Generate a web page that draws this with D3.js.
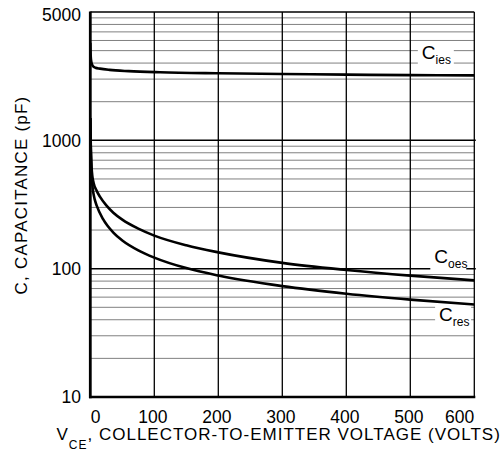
<!DOCTYPE html>
<html>
<head>
<meta charset="utf-8">
<script src="https://cdn.jsdelivr.net/npm/d3@7"></script>
<style>
  html, body { margin: 0; padding: 0; background: #fff; }
  svg { display: block; font-family: "Liberation Sans", Arial, sans-serif; }
</style>
</head>
<body>
<svg id="chart" width="502" height="452"></svg>
<script>
// Collector-emitter voltage (V) sample points for each capacitance curve
const vIes = [0, 0.3, 1, 2, 4, 8, 15, 30, 60, 109, 200, 300, 400, 500, 600];
const cIes = [5750, 4900, 4300, 4000, 3800, 3680, 3620, 3540, 3460, 3390, 3330, 3290, 3250, 3220, 3210];

const vOes = [0, 0.5, 1, 2, 3, 5, 10, 15, 25, 36, 50, 75, 100, 150, 200, 300, 400, 500, 600];
const cOes = [1490, 1048, 824, 620, 536, 469, 404, 364, 311, 273, 241, 205, 181, 152, 134, 111, 97.7, 88.2, 81.1];

const vRes = [0, 0.5, 1, 2, 3, 5, 7, 10, 20, 36, 50, 75, 100, 150, 200, 300, 400, 500, 600];
const cRes = [1490, 998, 757, 544, 457, 383, 345, 310, 243, 191, 166, 139, 122, 101, 88.4, 73.1, 63.8, 57.4, 52.6];

// Axis ticks and their printed labels
const xTicks = [0, 100, 200, 300, 400, 500, 600];
const yTicks = [10, 100, 1000, 10000];
const yTickLabels = ["10", "100", "1000", "5000"];

// Curve name labels: main letter, subscript, anchor (V, pF)
const curveLabels = [
  { main: "C", sub: "ies", v: 518, c: 4280 },
  { main: "C", sub: "oes", v: 537.5, c: 110 },
  { main: "C", sub: "res", v: 545, c: 39.1 }
];

const svg = d3.select("#chart");
const pLeft = 90.3, pRight = 474.3, pTop = 12, pBottom = 397;

const x = d3.scaleLinear().domain([0, 600]).range([pLeft, pRight]);
const y = d3.scaleLog().domain([10, 10000]).range([pBottom, pTop]);

// Minor horizontal grid (2..9 within each decade)
const minor = [];
for (let d = 10; d < 10000; d *= 10) {
  for (let k = 2; k <= 9; k++) minor.push(d * k);
}
svg.append("g").selectAll("line").data(minor).join("line")
  .attr("x1", pLeft).attr("x2", pRight)
  .attr("y1", d => y(d)).attr("y2", d => y(d))
  .attr("stroke", "#808080").attr("stroke-width", 1);

// Decade lines
svg.append("g").selectAll("line").data([100, 1000]).join("line")
  .attr("x1", pLeft).attr("x2", pRight + 1.5)
  .attr("y1", d => y(d)).attr("y2", d => y(d))
  .attr("stroke", "#000").attr("stroke-width", 1.5);

// Vertical grid
svg.append("g").selectAll("line").data(xTicks.slice(1, -1)).join("line")
  .attr("x1", d => x(d)).attr("x2", d => x(d))
  .attr("y1", pTop).attr("y2", pBottom)
  .attr("stroke", "#000").attr("stroke-width", 1.3);

// Frame: thin top/right, heavy left/bottom axes
svg.append("line").attr("x1", pLeft).attr("x2", pRight).attr("y1", pTop).attr("y2", pTop)
  .attr("stroke", "#000").attr("stroke-width", 1.3);
svg.append("line").attr("x1", pRight).attr("x2", pRight).attr("y1", pTop).attr("y2", pBottom)
  .attr("stroke", "#000").attr("stroke-width", 1.3);

// Label knock-out boxes and curve names
const lab = svg.append("g");
curveLabels.forEach(l => {
  const bx = x(l.v), by = y(l.c);
  lab.append("rect")
    .attr("x", bx - 4).attr("y", by - 16)
    .attr("width", 36).attr("height", 23)
    .attr("fill", "#fff");
  const t = lab.append("text").attr("x", bx).attr("y", by)
    .attr("font-size", 19).attr("fill", "#000");
  t.append("tspan").text(l.main);
  t.append("tspan").attr("dy", 5).attr("font-size", 12).text(l.sub);
});

// Capacitance curves
const line = d3.line()
  .x(d => x(d[0])).y(d => y(d[1]))
  .curve(d3.curveMonotoneX);
const series = [
  d3.zip(vIes, cIes),
  d3.zip(vOes, cOes),
  d3.zip(vRes, cRes)
];
svg.append("g").selectAll("path").data(series).join("path")
  .attr("d", line)
  .attr("fill", "none").attr("stroke", "#000")
  .attr("stroke-width", 2.6).attr("stroke-linejoin", "round");

// Heavy left and bottom axis lines
svg.append("line").attr("x1", pLeft).attr("x2", pLeft).attr("y1", pTop - 0.5).attr("y2", pBottom + 1.3)
  .attr("stroke", "#000").attr("stroke-width", 2.8);
svg.append("line").attr("x1", pLeft - 1.3).attr("x2", pRight + 1).attr("y1", pBottom).attr("y2", pBottom)
  .attr("stroke", "#000").attr("stroke-width", 2.6);

// Y tick labels
svg.append("g").selectAll("text").data(yTicks).join("text")
  .attr("x", 81).attr("y", d => Math.max(y(d), 15))
  .attr("dy", "0.36em")
  .attr("text-anchor", "end").attr("font-size", 17.5)
  .text((d, i) => yTickLabels[i]);

// X tick labels
svg.append("g").selectAll("text").data(xTicks).join("text")
  .attr("x", d => d === 0 ? x(d) + 0.5 : d === 600 ? x(d) : x(d) - 1.5)
  .attr("y", 422.5)
  .attr("text-anchor", d => d === 0 ? "start" : d === 600 ? "end" : "middle")
  .attr("font-size", 17.5)
  .text(d => d);

// X axis title
const xt = svg.append("text").attr("x", 56.5).attr("y", 440)
  .attr("font-size", 17).attr("letter-spacing", 1.0);
xt.append("tspan").text("V");
xt.append("tspan").attr("dy", 9).attr("font-size", 12).text("CE");
xt.append("tspan").attr("dy", -9).text(", COLLECTOR-TO-EMITTER VOLTAGE (VOLTS)");

// Y axis title
svg.append("text")
  .attr("transform", "translate(27,195) rotate(-90)")
  .attr("text-anchor", "middle").attr("font-size", 17).attr("letter-spacing", 1.2)
  .text("C, CAPACITANCE (pF)");
</script>
</body>
</html>
